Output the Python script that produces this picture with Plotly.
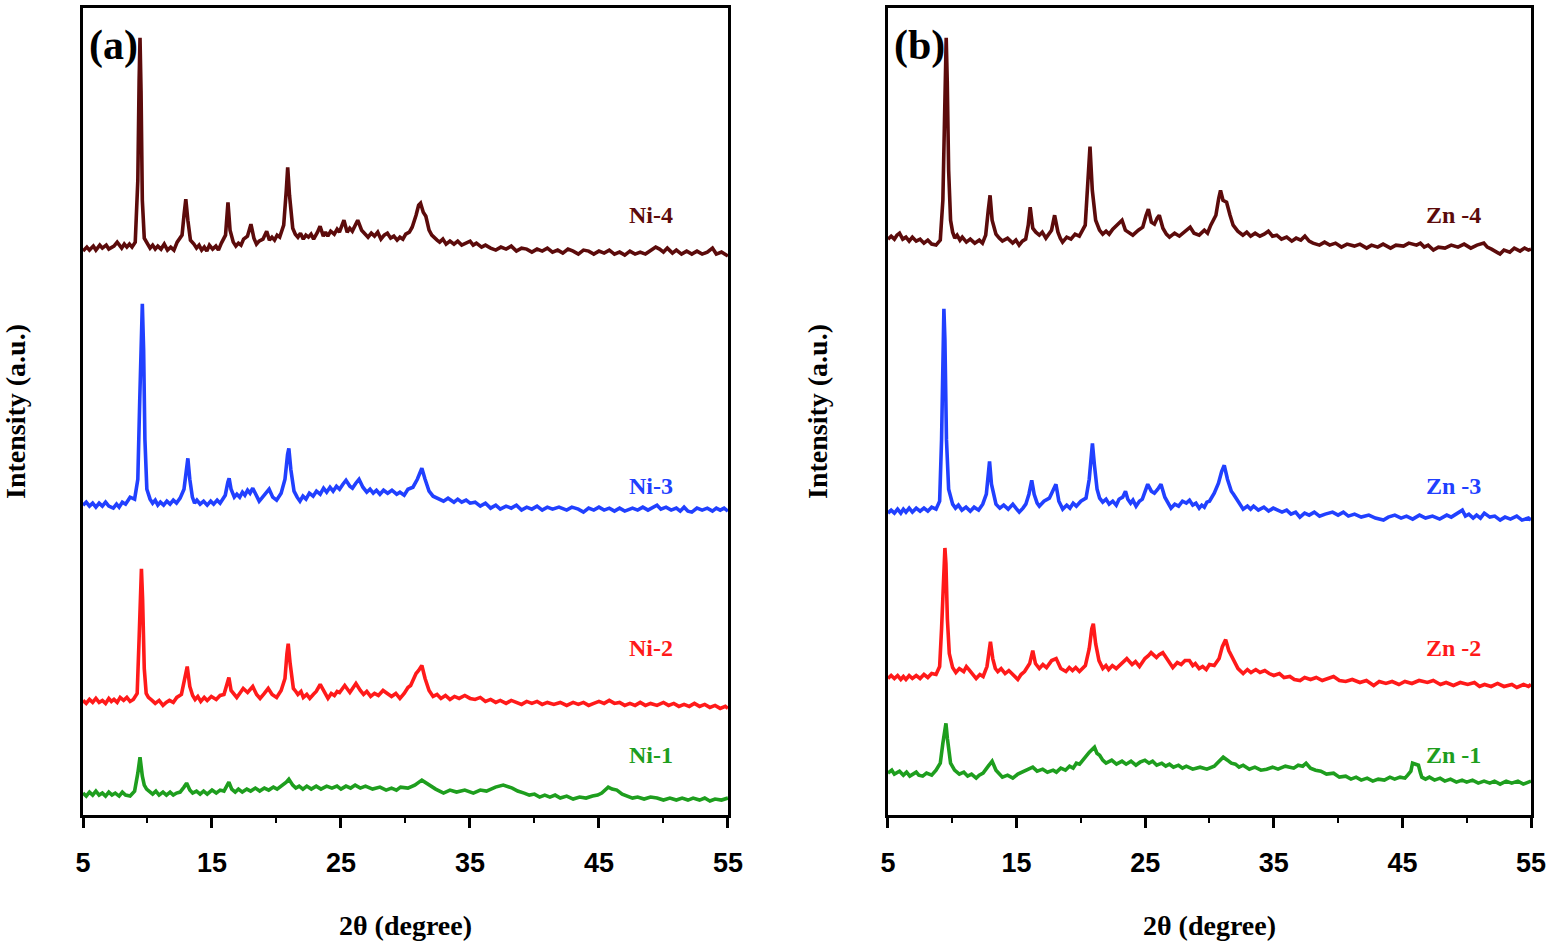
import plotly.graph_objects as go

# XRD patterns: (2theta, intensity a.u.)
ni_4 = [(5.0, 569), (5.3, 573), (5.5, 570), (5.8, 574), (6.0, 570), (6.3, 575), (6.5, 572), (6.8, 575), (7.0, 571),
        (7.4, 574), (7.65, 578), (8.0, 572), (8.2, 576), (8.4, 573), (8.6, 576), (8.8, 573), (9.05, 578), (9.25, 640),
        (9.35, 740), (9.42, 783), (9.5, 730), (9.6, 620), (9.75, 582), (10.0, 576), (10.2, 572), (10.4, 575), (10.6, 571),
        (10.8, 574), (11.05, 571), (11.3, 576), (11.55, 570), (11.8, 573), (12.05, 570), (12.3, 578), (12.68, 585),
        (12.83, 605), (12.97, 621), (13.13, 600), (13.33, 580), (13.6, 576), (13.8, 572), (14.0, 575), (14.2, 570),
        (14.4, 573), (14.6, 569), (14.8, 575), (15.05, 571), (15.3, 574), (15.5, 570), (15.73, 577), (16.05, 585),
        (16.24, 618), (16.4, 590), (16.65, 578), (16.85, 574), (17.05, 577), (17.25, 575), (17.45, 581), (17.75, 584),
        (18.02, 596), (18.25, 582), (18.45, 576), (18.65, 579), (18.95, 581), (19.24, 589), (19.45, 580), (19.65, 583),
        (19.85, 580), (20.05, 585), (20.25, 583), (20.56, 595), (20.76, 630), (20.87, 653), (21.01, 625), (21.26, 592),
        (21.46, 586), (21.66, 583), (21.86, 587), (22.08, 581), (22.28, 585), (22.48, 583), (22.68, 586), (22.88, 581),
        (23.18, 588), (23.38, 594), (23.63, 584), (23.8, 588), (23.98, 584), (24.2, 589), (24.48, 586), (24.7, 591),
        (24.88, 588), (25.23, 600), (25.48, 588), (25.68, 592), (25.88, 589), (26.3, 600), (26.6, 590), (26.85, 586),
        (27.1, 583), (27.35, 587), (27.6, 584), (27.85, 588), (28.1, 581), (28.35, 585), (28.6, 587), (28.85, 582),
        (29.1, 584), (29.35, 580), (29.57, 583), (29.8, 581), (30.02, 586), (30.3, 588), (30.52, 593), (30.82, 605),
        (31.02, 615), (31.17, 617), (31.38, 608), (31.58, 604), (31.83, 590), (32.04, 585), (32.24, 582), (32.45, 580),
        (32.65, 578), (32.9, 581), (33.15, 576), (33.45, 579), (33.76, 576), (34.05, 579), (34.36, 575), (34.7, 577),
        (35.01, 579), (35.25, 575), (35.5, 577), (35.9, 573), (36.2, 575), (36.6, 572), (37.0, 570), (37.4, 573),
        (37.8, 571), (38.2, 574), (38.6, 569), (39.0, 572), (39.4, 571), (39.8, 568), (40.2, 571), (40.6, 569),
        (41.0, 572), (41.4, 568), (41.8, 570), (42.2, 567), (42.6, 571), (43.0, 569), (43.4, 566), (43.8, 570),
        (44.2, 569), (44.6, 566), (45.0, 569), (45.4, 567), (45.8, 570), (46.2, 566), (46.6, 568), (47.0, 565),
        (47.4, 569), (47.8, 566), (48.2, 568), (48.6, 566), (49.0, 570), (49.4, 573), (49.7, 571), (50.0, 568),
        (50.3, 572), (50.7, 567), (51.0, 570), (51.4, 566), (51.8, 569), (52.2, 566), (52.6, 569), (53.0, 566),
        (53.4, 568), (53.8, 572), (54.1, 566), (54.5, 568), (55.0, 564)]

ni_3 = [(5.0, 314), (5.25, 317), (5.5, 313), (5.75, 316), (6.0, 312), (6.25, 316), (6.5, 313), (6.75, 317), (7.0, 313),
        (7.35, 311), (7.6, 315), (7.8, 312), (8.05, 317), (8.3, 315), (8.5, 319), (8.65, 322), (9.0, 320), (9.25, 340),
        (9.4, 420), (9.5, 480), (9.6, 516), (9.7, 470), (9.8, 380), (9.95, 330), (10.2, 320), (10.4, 316), (10.6, 319),
        (10.8, 314), (11.0, 317), (11.25, 314), (11.5, 318), (11.75, 315), (12.0, 319), (12.25, 316), (12.53, 321),
        (12.83, 330), (12.98, 350), (13.13, 361), (13.28, 340), (13.48, 322), (13.65, 316), (13.83, 319), (14.08, 315),
        (14.35, 318), (14.63, 314), (14.9, 318), (15.13, 315), (15.4, 319), (15.63, 316), (16.03, 324), (16.23, 337),
        (16.33, 341), (16.48, 330), (16.73, 322), (16.93, 325), (17.15, 322), (17.36, 327), (17.55, 324), (17.76, 329),
        (17.95, 326), (18.16, 331), (18.46, 322), (18.66, 318), (18.86, 321), (19.16, 326), (19.43, 330), (19.71, 322),
        (20.01, 319), (20.36, 326), (20.66, 340), (20.86, 365), (20.96, 371), (21.11, 350), (21.36, 328), (21.6, 322),
        (21.82, 318), (22.05, 323), (22.29, 320), (22.55, 326), (22.84, 323), (23.1, 328), (23.39, 325), (23.65, 331),
        (23.89, 327), (24.15, 332), (24.39, 328), (24.65, 333), (24.89, 330), (25.15, 335), (25.39, 339), (25.69, 333),
        (25.89, 331), (26.15, 336), (26.4, 340), (26.7, 332), (27.0, 327), (27.25, 330), (27.5, 326), (27.75, 329),
        (28.02, 325), (28.3, 329), (28.62, 326), (28.95, 329), (29.32, 325), (29.57, 327), (29.9, 324), (30.19, 330),
        (30.58, 332), (30.92, 340), (31.27, 351), (31.52, 340), (31.83, 328), (32.14, 323), (32.5, 321), (32.95, 318),
        (33.3, 321), (33.76, 317), (34.05, 320), (34.36, 317), (34.7, 319), (35.01, 316), (35.4, 317), (35.8, 313),
        (36.2, 316), (36.6, 311), (37.0, 314), (37.35, 310), (37.8, 313), (38.2, 311), (38.6, 314), (39.0, 309),
        (39.4, 312), (39.8, 310), (40.2, 313), (40.6, 309), (41.0, 312), (41.4, 310), (41.9, 312), (42.5, 309),
        (42.9, 312), (43.4, 310), (43.8, 307), (44.2, 311), (44.6, 309), (45.0, 312), (45.4, 309), (45.8, 311),
        (46.2, 308), (46.6, 311), (47.0, 308), (47.6, 311), (48.0, 309), (48.4, 312), (48.8, 309), (49.2, 312),
        (49.5, 314), (49.8, 310), (50.2, 312), (50.6, 309), (51.0, 311), (51.3, 308), (51.6, 312), (51.9, 308),
        (52.2, 307), (52.6, 311), (53.0, 309), (53.4, 311), (53.8, 308), (54.1, 311), (54.4, 309), (54.7, 311),
        (55.0, 308)]

ni_2 = [(5.0, 118), (5.25, 115), (5.5, 119), (5.75, 116), (6.0, 120), (6.25, 116), (6.5, 118), (6.75, 115), (7.0, 120),
        (7.2, 117), (7.4, 119), (7.65, 116), (7.88, 121), (8.15, 118), (8.4, 121), (8.65, 117), (8.9, 119), (9.2, 125),
        (9.35, 180), (9.45, 230), (9.53, 250), (9.62, 220), (9.75, 150), (9.9, 125), (10.07, 121), (10.35, 118),
        (10.6, 115), (10.9, 118), (11.2, 113), (11.45, 116), (11.7, 118), (12.0, 116), (12.27, 121), (12.63, 124),
        (12.88, 140), (13.08, 152), (13.28, 132), (13.5, 123), (13.69, 119), (13.9, 122), (14.13, 117), (14.4, 121),
        (14.63, 118), (14.95, 122), (15.33, 119), (15.63, 123), (15.93, 124), (16.18, 135), (16.31, 141), (16.48, 128),
        (16.7, 124), (16.92, 121), (17.2, 126), (17.42, 130), (17.76, 126), (18.16, 132), (18.46, 124), (18.73, 120),
        (19.06, 125), (19.36, 130), (19.66, 124), (20.01, 121), (20.36, 128), (20.66, 140), (20.81, 165), (20.91, 175),
        (21.06, 155), (21.31, 130), (21.5, 127), (21.66, 124), (21.9, 127), (22.08, 121), (22.35, 124), (22.58, 120),
        (22.85, 124), (23.08, 127), (23.39, 134), (23.69, 126), (23.99, 120), (24.25, 125), (24.49, 123), (24.7, 127),
        (24.89, 126), (25.29, 133), (25.69, 126), (25.9, 130), (26.16, 135), (26.5, 128), (26.75, 124), (27.0, 127),
        (27.3, 122), (27.6, 125), (27.9, 123), (28.26, 128), (28.6, 125), (28.92, 122), (29.25, 125), (29.57, 120),
        (29.9, 125), (30.19, 131), (30.4, 133), (30.6, 138), (30.82, 145), (31.02, 148), (31.27, 153), (31.52, 140),
        (31.83, 128), (32.14, 122), (32.45, 124), (32.75, 120), (33.1, 123), (33.45, 119), (33.8, 122), (34.16, 120),
        (34.6, 123), (35.01, 120), (35.4, 119), (35.8, 121), (36.2, 117), (36.6, 119), (37.0, 116), (37.35, 118),
        (37.8, 115), (38.2, 118), (38.6, 116), (39.0, 114), (39.4, 117), (39.8, 115), (40.2, 117), (40.6, 114),
        (41.0, 116), (41.5, 114), (42.0, 116), (42.5, 113), (43.0, 116), (43.4, 114), (43.8, 116), (44.2, 113),
        (44.6, 115), (45.0, 117), (45.4, 115), (45.8, 118), (46.2, 115), (46.6, 116), (47.0, 113), (47.4, 115),
        (47.8, 113), (48.2, 116), (48.6, 113), (49.0, 115), (49.5, 113), (50.0, 116), (50.4, 113), (50.8, 115),
        (51.2, 112), (51.6, 114), (52.0, 112), (52.4, 115), (52.8, 112), (53.2, 114), (53.6, 111), (54.0, 113),
        (54.4, 110), (54.8, 112), (55.0, 110)]

ni_1 = [(5.0, 25), (5.25, 22), (5.5, 26), (5.75, 23), (6.0, 27), (6.25, 23), (6.5, 25), (6.75, 22), (7.0, 26),
        (7.25, 23), (7.5, 25), (7.8, 22), (8.05, 26), (8.3, 23), (8.65, 22), (9.0, 27), (9.25, 45), (9.42, 61),
        (9.6, 42), (9.75, 33), (9.93, 29), (10.15, 27), (10.4, 24), (10.65, 27), (10.9, 23), (11.2, 26), (11.47, 23),
        (11.75, 26), (12.0, 23), (12.25, 25), (12.53, 26), (12.83, 31), (13.03, 35), (13.28, 28), (13.5, 25),
        (13.8, 27), (14.08, 24), (14.35, 27), (14.63, 24), (15.0, 28), (15.33, 25), (15.63, 28), (15.93, 27),
        (16.31, 36), (16.53, 29), (16.8, 26), (17.05, 29), (17.35, 26), (17.7, 29), (18.0, 27), (18.36, 30),
        (18.7, 27), (19.06, 30), (19.4, 28), (19.76, 31), (20.05, 29), (20.36, 32), (20.76, 36), (20.96, 39),
        (21.26, 33), (21.5, 30), (21.76, 32), (22.05, 29), (22.35, 32), (22.7, 29), (23.08, 32), (23.45, 29),
        (23.89, 32), (24.3, 30), (24.69, 32), (25.0, 29), (25.39, 32), (25.75, 30), (26.1, 33), (26.5, 30),
        (26.9, 32), (27.45, 29), (28.02, 31), (28.5, 28), (28.92, 30), (29.3, 28), (29.62, 31), (30.19, 30),
        (30.72, 33), (31.27, 38), (31.73, 34), (32.05, 31), (32.34, 29), (32.65, 27), (32.95, 25), (33.45, 28),
        (33.96, 26), (34.6, 28), (35.26, 25), (35.8, 28), (36.28, 27), (36.98, 31), (37.58, 33), (38.28, 30),
        (38.7, 27), (39.2, 25), (39.6, 23), (40.0, 24), (40.4, 21), (40.8, 23), (41.2, 21), (41.6, 23), (42.0, 20),
        (42.5, 22), (43.0, 19), (43.5, 21), (44.0, 20), (44.5, 22), (44.9, 23), (45.22, 25), (45.5, 29), (45.72, 31),
        (46.02, 29), (46.39, 28), (46.8, 24), (47.2, 22), (47.6, 20), (48.0, 21), (48.5, 19), (49.0, 21), (49.5, 20),
        (50.0, 18), (50.5, 20), (51.0, 18), (51.45, 20), (51.9, 18), (52.3, 20), (52.8, 18), (53.2, 20), (53.6, 17),
        (54.0, 19), (54.5, 18), (55.0, 20)]

zn_4 = [(5.0, 581), (5.25, 584), (5.5, 581), (5.7, 585), (5.9, 587), (6.15, 581), (6.4, 583), (6.65, 579), (6.9, 583),
        (7.2, 579), (7.5, 581), (7.8, 577), (8.1, 580), (8.4, 576), (8.74, 575), (9.07, 580), (9.27, 620), (9.37, 700),
        (9.45, 760), (9.53, 783), (9.61, 740), (9.72, 650), (9.87, 600), (10.03, 588), (10.2, 582), (10.38, 585),
        (10.6, 580), (10.78, 583), (11.1, 578), (11.4, 581), (11.75, 577), (12.1, 580), (12.35, 577), (12.6, 585),
        (12.8, 610), (12.94, 625), (13.1, 600), (13.4, 586), (13.65, 582), (13.9, 579), (14.3, 582), (14.7, 577),
        (14.95, 580), (15.2, 575), (15.45, 579), (15.71, 581), (15.91, 595), (16.06, 613), (16.26, 592), (16.5, 588),
        (16.77, 585), (17.0, 588), (17.28, 582), (17.72, 590), (17.96, 605), (18.22, 588), (18.4, 582), (18.58, 578),
        (18.9, 583), (19.23, 581), (19.55, 586), (19.88, 584), (20.34, 595), (20.54, 640), (20.71, 674), (20.89, 630),
        (21.15, 600), (21.45, 590), (21.7, 586), (21.96, 589), (22.2, 586), (22.48, 591), (22.91, 596), (23.2, 600),
        (23.46, 590), (23.75, 588), (24.04, 585), (24.47, 590), (24.81, 593), (25.07, 605), (25.25, 611), (25.48, 598),
        (25.72, 596), (25.93, 602), (26.1, 605), (26.38, 592), (26.65, 586), (26.89, 583), (27.29, 587), (27.66, 584),
        (28.1, 589), (28.5, 593), (28.8, 587), (29.2, 585), (29.6, 590), (29.85, 587), (30.1, 595), (30.5, 605),
        (30.72, 622), (30.86, 630), (31.05, 620), (31.33, 618), (31.6, 605), (31.84, 595), (32.2, 589), (32.6, 585),
        (32.9, 588), (33.2, 584), (33.55, 587), (33.92, 584), (34.25, 586), (34.58, 589), (34.9, 584), (35.23, 585),
        (35.6, 581), (36.0, 583), (36.4, 579), (36.74, 582), (37.1, 580), (37.42, 584), (37.75, 579), (38.05, 577),
        (38.55, 575), (38.95, 578), (39.35, 575), (39.8, 577), (40.26, 573), (40.7, 576), (41.27, 574), (41.7, 576),
        (42.22, 572), (42.6, 575), (43.08, 573), (43.5, 576), (44.08, 572), (44.5, 575), (45.09, 574), (45.5, 577),
        (46.1, 575), (46.4, 577), (46.7, 573), (47.0, 575), (47.41, 570), (47.8, 573), (48.31, 572), (48.8, 575),
        (49.32, 573), (49.8, 576), (50.32, 572), (50.8, 575), (51.33, 577), (51.6, 573), (51.93, 571), (52.3, 568),
        (52.59, 566), (52.9, 570), (53.35, 568), (53.7, 572), (54.15, 569), (54.5, 572), (54.8, 570), (55.0, 571)]

zn_3 = [(5.0, 306), (5.25, 309), (5.5, 306), (5.75, 310), (6.0, 306), (6.2, 310), (6.4, 307), (6.65, 311), (6.9, 307),
        (7.2, 311), (7.5, 308), (7.8, 311), (8.1, 308), (8.4, 312), (8.74, 310), (9.02, 318), (9.17, 380), (9.27, 470),
        (9.35, 511), (9.43, 480), (9.55, 380), (9.72, 330), (10.03, 315), (10.25, 311), (10.48, 314), (10.75, 309),
        (11.07, 312), (11.4, 308), (11.7, 312), (12.05, 309), (12.37, 315), (12.65, 325), (12.8, 345), (12.9, 358),
        (13.05, 335), (13.4, 315), (13.7, 311), (14.0, 314), (14.35, 310), (14.71, 315), (14.95, 311), (15.21, 307),
        (15.5, 311), (15.72, 315), (15.96, 325), (16.18, 339), (16.37, 325), (16.6, 316), (16.77, 313), (17.13, 318),
        (17.55, 321), (17.84, 328), (18.06, 335), (18.29, 318), (18.59, 310), (18.9, 314), (19.15, 311), (19.4, 316),
        (19.65, 313), (20.0, 318), (20.4, 321), (20.65, 340), (20.8, 365), (20.9, 376), (21.05, 355), (21.26, 330),
        (21.46, 321), (21.7, 317), (21.96, 320), (22.2, 315), (22.48, 318), (22.75, 314), (22.97, 320), (23.25, 322),
        (23.47, 328), (23.65, 320), (23.87, 316), (24.05, 319), (24.29, 313), (24.55, 318), (24.78, 320), (25.03, 328),
        (25.2, 335), (25.48, 328), (25.72, 326), (25.98, 330), (26.23, 335), (26.53, 322), (26.8, 315), (27.01, 311),
        (27.3, 315), (27.6, 313), (27.9, 318), (28.2, 316), (28.45, 319), (28.7, 314), (28.95, 316), (29.2, 311),
        (29.4, 314), (29.6, 312), (29.8, 317), (30.0, 318), (30.37, 326), (30.7, 336), (30.95, 348), (31.15, 354),
        (31.4, 340), (31.7, 328), (31.87, 325), (32.22, 318), (32.62, 310), (32.95, 313), (33.2, 310), (33.43, 313),
        (33.8, 309), (34.23, 312), (34.6, 308), (34.96, 311), (35.3, 309), (35.64, 307), (36.0, 309), (36.34, 305),
        (36.7, 307), (37.03, 302), (37.4, 306), (37.75, 304), (38.15, 307), (38.56, 303), (39.0, 305), (39.57, 307),
        (40.0, 304), (40.41, 307), (40.8, 303), (41.28, 305), (41.8, 302), (42.39, 304), (42.9, 301), (43.53, 299),
        (43.9, 302), (44.41, 304), (44.9, 301), (45.32, 303), (45.8, 300), (46.33, 304), (46.8, 301), (47.34, 303),
        (47.9, 300), (48.45, 304), (48.8, 302), (49.16, 305), (49.66, 309), (49.9, 303), (50.17, 305), (50.5, 301),
        (50.77, 304), (51.07, 301), (51.37, 306), (51.8, 302), (52.18, 303), (52.6, 299), (52.98, 302), (53.4, 300),
        (53.89, 303), (54.3, 299), (54.8, 301), (55.0, 299)]

zn_2 = [(5.0, 140), (5.25, 143), (5.5, 140), (5.75, 143), (6.0, 139), (6.2, 142), (6.4, 139), (6.65, 143), (6.9, 140),
        (7.2, 143), (7.5, 140), (7.8, 144), (8.1, 141), (8.4, 145), (8.74, 144), (9.02, 152), (9.17, 190), (9.29, 240),
        (9.37, 265), (9.43, 271), (9.51, 255), (9.62, 200), (9.77, 165), (10.03, 151), (10.28, 146), (10.55, 150),
        (10.89, 147), (11.1, 152), (11.3, 149), (11.55, 145), (11.86, 140), (12.15, 144), (12.4, 142), (12.7, 152),
        (12.85, 168), (12.97, 177), (13.15, 160), (13.35, 150), (13.54, 147), (13.8, 150), (14.11, 145), (14.4, 148),
        (14.71, 144), (15.1, 139), (15.35, 144), (15.62, 147), (16.02, 155), (16.26, 168), (16.47, 155), (16.77, 150),
        (17.05, 154), (17.33, 151), (17.73, 158), (18.08, 160), (18.44, 150), (18.84, 147), (19.1, 151), (19.35, 148),
        (19.6, 151), (19.89, 147), (20.35, 153), (20.65, 170), (20.85, 190), (20.97, 195), (21.15, 175), (21.41, 158),
        (21.71, 150), (21.95, 153), (22.16, 149), (22.45, 153), (22.75, 150), (23.17, 155), (23.57, 160), (23.98, 154),
        (24.25, 157), (24.56, 152), (24.98, 160), (25.25, 163), (25.46, 166), (25.88, 161), (26.1, 164), (26.37, 166),
        (26.69, 160), (26.95, 155), (27.15, 151), (27.5, 156), (27.8, 154), (28.1, 158), (28.44, 158), (28.7, 153),
        (28.9, 155), (29.2, 150), (29.47, 152), (29.75, 149), (30.0, 154), (30.37, 153), (30.75, 160), (31.0, 172),
        (31.26, 179), (31.5, 168), (31.87, 158), (32.22, 150), (32.62, 145), (32.95, 149), (33.23, 146), (33.6, 149),
        (33.93, 146), (34.3, 148), (34.64, 145), (35.0, 143), (35.44, 145), (35.8, 141), (36.25, 142), (36.6, 139),
        (37.05, 138), (37.4, 141), (37.86, 139), (38.3, 141), (38.77, 138), (39.2, 140), (39.65, 142), (40.1, 138),
        (40.59, 137), (41.1, 139), (41.7, 136), (42.2, 138), (42.77, 133), (43.2, 137), (43.72, 135), (44.2, 137),
        (44.73, 134), (45.2, 137), (45.74, 135), (46.3, 138), (46.95, 136), (47.4, 138), (47.96, 134), (48.4, 136),
        (48.97, 133), (49.5, 136), (50.08, 134), (50.6, 136), (51.0, 132), (51.39, 134), (51.9, 132), (52.4, 135),
        (52.9, 132), (53.51, 134), (53.9, 131), (54.42, 134), (54.8, 132), (55.0, 134)]

zn_1 = [(5.0, 45), (5.3, 48), (5.5, 44), (5.9, 47), (6.2, 43), (6.45, 46), (6.7, 42), (6.9, 44), (7.2, 46), (7.4, 43),
        (7.7, 42), (8.0, 45), (8.4, 43), (8.74, 48), (9.07, 55), (9.27, 75), (9.42, 92), (9.51, 95), (9.62, 80),
        (9.75, 62), (9.87, 55), (10.18, 48), (10.55, 44), (10.9, 46), (11.2, 42), (11.5, 44), (11.86, 40), (12.1, 43),
        (12.4, 45), (12.8, 52), (13.1, 57), (13.4, 48), (13.65, 44), (13.9, 41), (14.3, 43), (14.71, 40), (15.1, 44),
        (15.41, 46), (15.8, 48), (16.26, 51), (16.6, 47), (17.03, 49), (17.4, 46), (17.84, 48), (18.1, 46),
        (18.44, 50), (18.8, 48), (19.12, 52), (19.4, 50), (19.65, 55), (19.9, 54), (20.15, 58), (20.4, 61),
        (20.66, 66), (21.06, 71), (21.25, 65), (21.46, 63), (21.7, 58), (21.96, 55), (22.4, 58), (22.77, 54),
        (23.2, 57), (23.52, 54), (23.9, 57), (24.28, 53), (24.6, 56), (24.98, 58), (25.3, 55), (25.58, 57),
        (25.9, 53), (26.29, 55), (26.6, 52), (26.89, 54), (27.2, 51), (27.59, 53), (27.9, 50), (28.2, 52),
        (28.7, 49), (29.27, 51), (29.8, 49), (30.37, 52), (30.8, 57), (31.07, 61), (31.4, 58), (31.7, 55),
        (32.02, 54), (32.3, 51), (32.62, 53), (33.1, 49), (33.53, 51), (34.0, 48), (34.45, 49), (34.9, 51),
        (35.33, 49), (35.9, 52), (36.55, 50), (36.9, 53), (37.25, 52), (37.51, 55), (37.85, 50), (38.25, 48),
        (38.66, 47), (39.1, 44), (39.65, 45), (40.1, 41), (40.59, 42), (41.0, 39), (41.4, 41), (41.8, 38),
        (42.26, 40), (42.7, 37), (43.12, 39), (43.6, 38), (44.03, 41), (44.4, 39), (44.82, 41), (45.2, 40),
        (45.41, 43), (45.66, 47), (45.79, 55), (46.25, 53), (46.41, 45), (46.51, 41), (46.8, 39), (47.1, 41),
        (47.5, 38), (47.93, 40), (48.3, 37), (48.74, 39), (49.2, 36), (49.64, 38), (50.0, 36), (50.45, 38),
        (50.9, 35), (51.35, 37), (51.8, 35), (52.16, 37), (52.6, 34), (53.07, 37), (53.5, 35), (53.98, 37),
        (54.4, 34), (54.8, 36), (55.0, 37)]

ni_names = ["Ni-4", "Ni-3", "Ni-2", "Ni-1"]
zn_names = ["Zn -4", "Zn -3", "Zn -2", "Zn -1"]
label_y = [605, 333, 171, 63]
label_x = 49.0
colors = ["#5c0b0b", "#2140ff", "#ff1a1a", "#1e9e1e"]
x_ticks = [5, 15, 25, 35, 45, 55]

fig = go.Figure()

panels = [("x", "y", [ni_4, ni_3, ni_2, ni_1], ni_names),
          ("x2", "y2", [zn_4, zn_3, zn_2, zn_1], zn_names)]

for xa, ya, series, names in panels:
    for pts, name, col, ly in zip(series, names, colors, label_y):
        fig.add_trace(go.Scatter(
            x=[p[0] for p in pts], y=[p[1] for p in pts], mode="lines",
            line=dict(color=col, width=3.6), name=name, showlegend=False,
            xaxis=xa, yaxis=ya))
        fig.add_annotation(x=label_x, y=ly, xref=xa, yref=ya, text=name, showarrow=False,
                           font=dict(family="Liberation Serif", size=24, color=col, weight="bold"))

serif = dict(family="Liberation Serif", size=28, color="black", weight="bold")

xaxis_style = dict(range=[5, 55], tickvals=x_ticks, ticks="outside", ticklen=10, tickwidth=3,
                   tickcolor="black", showline=True, linewidth=3, linecolor="black", mirror=True,
                   showgrid=False, zeroline=False,
                   minor=dict(tickvals=[10, 20, 30, 40, 50], ticks="outside", ticklen=5, tickwidth=2,
                              tickcolor="black"),
                   tickfont=dict(family="Liberation Sans", size=27, color="black", weight="bold"),
                   ticklabelstandoff=12,
                   title=dict(text="2θ (degree)", font=serif, standoff=38))
yaxis_style = dict(range=[3, 813], showticklabels=False, ticks="", showline=True, linewidth=3,
                   linecolor="black", mirror=True, showgrid=False, zeroline=False,
                   title=dict(text="Intensity (a.u.)", font=serif, standoff=50))

fig.update_layout(
    width=1551, height=945,
    margin=dict(l=83, r=20, t=5, b=130),
    plot_bgcolor="white", paper_bgcolor="white",
    xaxis=dict(domain=[0, 0.4454], anchor="y", **xaxis_style),
    yaxis=dict(domain=[0, 1], anchor="x", **yaxis_style),
    xaxis2=dict(domain=[0.5559, 1], anchor="y2", **xaxis_style),
    yaxis2=dict(domain=[0, 1], anchor="x2", **yaxis_style),
)

for xa, ya, tag in [("x", "y", "(a)"), ("x2", "y2", "(b)")]:
    fig.add_annotation(x=0.006, y=0.985, xref=xa + " domain", yref=ya + " domain", text=tag,
                       showarrow=False, xanchor="left", yanchor="top",
                       font=dict(family="Liberation Serif", size=42, color="black", weight="bold"))

fig.write_html("out.html", config={"displayModeBar": False},
               post_script="document.body.style.margin='0px';")
